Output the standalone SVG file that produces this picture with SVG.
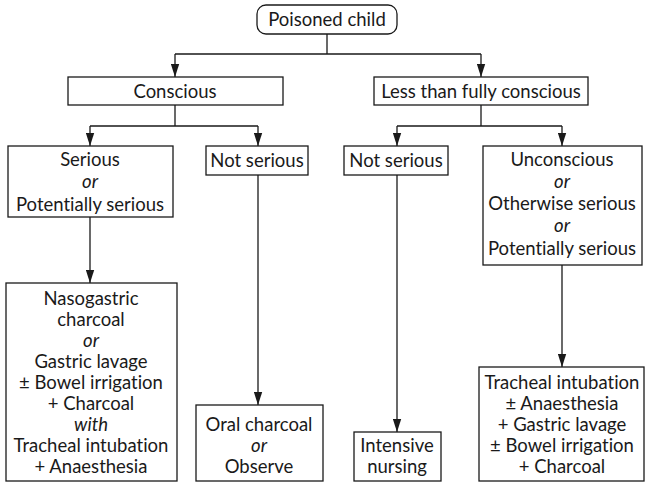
<svg xmlns="http://www.w3.org/2000/svg" width="646" height="483" viewBox="0 0 646 483">
  <defs>
    <marker id="head" markerUnits="userSpaceOnUse" markerWidth="13" markerHeight="9" refX="13" refY="4.5" orient="auto" viewBox="0 0 13 9">
      <path d="M0,0.3 L13,4.5 L0,8.7 Z" fill="#1a1a1a"/>
    </marker>
  </defs>
  <style>
    rect { fill: #fff; stroke: #1a1a1a; stroke-width: 1.3; }
    .wire { fill: none; stroke: #1a1a1a; stroke-width: 1.3; }
    .arr { fill: none; stroke: #1a1a1a; stroke-width: 1.3; marker-end: url(#head); }
    text { font-family: Lato, "Liberation Sans", sans-serif; font-size: 18.5px; fill: #1a1a1a; text-anchor: middle; font-variant-ligatures: none; }
    .it { font-style: italic; }
  </style>
  <rect x="0" y="0" width="646" height="483" style="fill:#fff;stroke:none"/>

  <g id="connectors">
    <path class="wire" d="M327,34 V54 M175,54 H481"/>
    <path class="arr" d="M175,54 V77"/>
    <path class="arr" d="M481,54 V77"/>
    <path class="wire" d="M175,105 V126 M90,126 H258"/>
    <path class="arr" d="M90,126 V146"/>
    <path class="arr" d="M258,126 V146"/>
    <path class="wire" d="M481,105 V126 M397,126 H562"/>
    <path class="arr" d="M397,126 V146"/>
    <path class="arr" d="M562,126 V146"/>
    <path class="arr" d="M90,217 V283"/>
    <path class="arr" d="M258,175 V405"/>
    <path class="arr" d="M397,175 V432"/>
    <path class="arr" d="M562,265 V367"/>
  </g>

  <g id="poisoned-child">
    <rect x="257" y="5" width="140" height="29" rx="9"/>
    <text x="327" y="26">Poisoned child</text>
  </g>
  <g id="conscious">
    <rect x="68" y="77" width="215" height="28"/>
    <text x="175" y="97.5">Conscious</text>
  </g>
  <g id="less-than-fully-conscious">
    <rect x="374" y="77" width="214" height="28"/>
    <text x="481" y="97.5">Less than fully conscious</text>
  </g>
  <g id="serious">
    <rect x="8" y="146" width="165" height="71"/>
    <text x="90" y="166">Serious</text>
    <text x="90" y="188" class="it">or</text>
    <text x="90" y="210.5">Potentially serious</text>
  </g>
  <g id="not-serious-a">
    <rect x="206" y="146" width="102" height="29"/>
    <text x="257" y="166.5">Not serious</text>
  </g>
  <g id="not-serious-b">
    <rect x="344" y="146" width="104" height="29"/>
    <text x="396" y="166.5">Not serious</text>
  </g>
  <g id="unconscious">
    <rect x="483" y="146" width="159" height="119"/>
    <text x="562" y="165.5">Unconscious</text>
    <text x="562" y="187.5" class="it">or</text>
    <text x="562" y="209.5">Otherwise serious</text>
    <text x="562" y="232" class="it">or</text>
    <text x="562" y="254.5">Potentially serious</text>
  </g>
  <g id="nasogastric">
    <rect x="6" y="283" width="171" height="198"/>
    <text x="91" y="304.5">Nasogastric</text>
    <text x="91" y="325.5">charcoal</text>
    <text x="91" y="346.5" class="it">or</text>
    <text x="91" y="367.5">Gastric lavage</text>
    <text x="91" y="388.5">± Bowel irrigation</text>
    <text x="91" y="409.5">+ Charcoal</text>
    <text x="91" y="430.5" class="it">with</text>
    <text x="91" y="451.5">Tracheal intubation</text>
    <text x="91" y="472.5">+ Anaesthesia</text>
  </g>
  <g id="oral-charcoal">
    <rect x="196" y="405" width="127" height="76"/>
    <text x="259" y="430.5">Oral charcoal</text>
    <text x="259" y="451.5" class="it">or</text>
    <text x="259" y="472.5">Observe</text>
  </g>
  <g id="intensive-nursing">
    <rect x="354" y="432" width="87" height="49"/>
    <text x="397" y="451.5">Intensive</text>
    <text x="397" y="472.5">nursing</text>
  </g>
  <g id="tracheal">
    <rect x="479" y="367" width="165" height="114"/>
    <text x="562" y="388.5">Tracheal intubation</text>
    <text x="562" y="409.5">± Anaesthesia</text>
    <text x="562" y="430.5">+ Gastric lavage</text>
    <text x="562" y="451.5">± Bowel irrigation</text>
    <text x="562" y="472.5">+ Charcoal</text>
  </g>
</svg>
